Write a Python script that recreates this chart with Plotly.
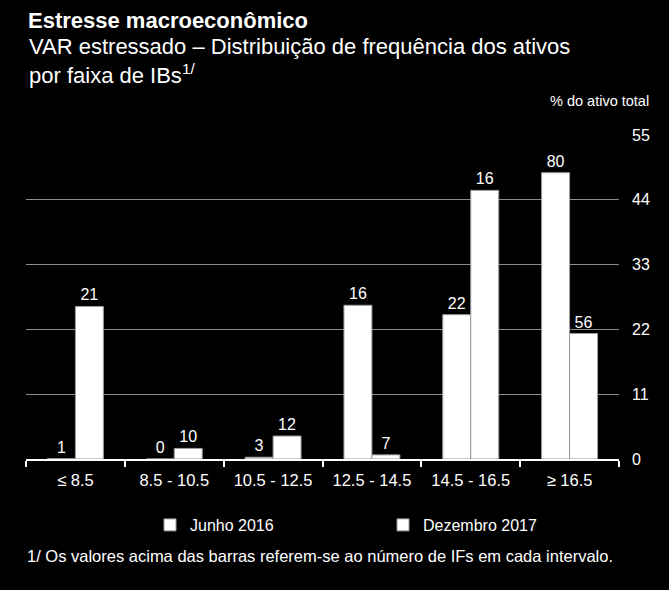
import plotly.graph_objects as go

categories = ["≤ 8.5", "8.5 - 10.5", "10.5 - 12.5", "12.5 - 14.5", "14.5 - 16.5", "≥ 16.5"]
jun_2016 = [0.05, 0.0, 0.3, 26.1, 24.5, 48.6]
dez_2017 = [25.9, 1.8, 3.9, 0.7, 45.6, 21.3]
jun_2016_n_ifs = [1, 0, 3, 16, 22, 80]
dez_2017_n_ifs = [21, 10, 12, 7, 16, 56]
y_ticks = [0, 11, 22, 33, 44, 55]

FONT = "Liberation Sans, Arial, sans-serif"
W, H = 669, 590
L, R, T, B = 26, 50, 135, 131
pw, ph = W - L - R, H - T - B


def px(x):
    return (x - L) / pw


def py(y):
    return (H - B - y) / ph


fig = go.Figure()
for name, vals, labels in [("Junho 2016", jun_2016, jun_2016_n_ifs),
                           ("Dezembro 2017", dez_2017, dez_2017_n_ifs)]:
    fig.add_trace(go.Bar(
        name=name, x=categories, y=vals,
        text=[str(v) for v in labels], textposition="outside",
        textfont=dict(color="white", size=16, family=FONT),
        constraintext="none", cliponaxis=False,
        marker=dict(color="white", line=dict(color="#9a9a9a", width=1)),
        hoverinfo="skip",
    ))

fig.update_layout(
    width=W, height=H,
    margin=dict(l=L, r=R, t=T, b=B),
    paper_bgcolor="black", plot_bgcolor="black",
    font=dict(family=FONT, color="white", size=16),
    barmode="group", bargap=0.434, bargroupgap=0,
    showlegend=True,
    legend=dict(orientation="h", xref="container", yref="container",
                x=150 / W, xanchor="left",
                y=1 - 508 / H, yanchor="top",
                font=dict(size=16, color="white", family=FONT),
                entrywidth=188, entrywidthmode="pixels",
                bgcolor="rgba(0,0,0,0)"),
    xaxis=dict(showline=True, linecolor="white", linewidth=1.5,
               ticks="outside", tickson="boundaries", ticklen=6,
               tickcolor="white", tickwidth=1.5,
               tickfont=dict(size=16.5, color="white"),
               ticklabelstandoff=5,
               showgrid=False, fixedrange=True),
    yaxis=dict(side="right", range=[0, 55], tickvals=y_ticks,
               showgrid=True, gridcolor="#8c8c8c", gridwidth=1,
               zeroline=False, showline=False, ticks="",
               tickfont=dict(size=16, color="white"),
               ticklabelstandoff=12, fixedrange=True),
)

ann = [
    dict(text="<b>Estresse macroeconômico</b>", x=px(26), y=py(20), size=22, xanchor="left"),
    dict(text="VAR estressado – Distribuição de frequência dos ativos", x=px(27), y=py(47), size=22, xanchor="left"),
    dict(text="por faixa de IBs<sup>1/</sup>", x=px(27), y=py(74), size=22, xanchor="left"),
    dict(text="% do ativo total", x=px(651), y=py(101), size=14.5, xanchor="right"),
    dict(text="1/ Os valores acima das barras referem-se ao número de IFs em cada intervalo.",
         x=px(25), y=py(556), size=16.5, xanchor="left"),
]
for a in ann:
    fig.add_annotation(text=a["text"], x=a["x"], y=a["y"], xref="paper", yref="paper",
                       xanchor=a["xanchor"], yanchor="middle", showarrow=False,
                       font=dict(size=a["size"], color="white", family=FONT))

fig.write_html("out.html",
               config={"displayModeBar": False},
               post_script="document.body.style.margin='0';document.body.style.padding='0';"
                           "document.body.style.background='black';")
